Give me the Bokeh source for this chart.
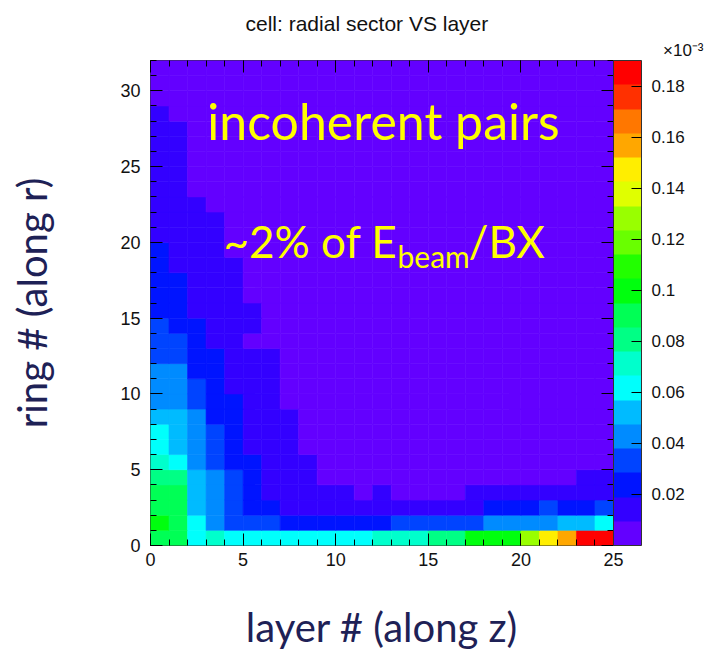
from bokeh.plotting import figure
from bokeh.models import (ColumnDataSource, LinearColorMapper, ColorBar, FixedTicker,
                          SingleIntervalTicker, LinearAxis, Label, Title)
from bokeh.embed import file_html
from bokeh.resources import INLINE

# ---------------- data (units of 1e-3) ----------------
layers = list(range(25))          # layer index (x bins)
rings = list(range(32))           # ring index (y bins)

ring_00 = [0.090, 0.090, 0.062, 0.071, 0.062, 0.062, 0.062, 0.062, 0.062, 0.062, 0.062, 0.062, 0.071, 0.071, 0.071, 0.081, 0.081, 0.100, 0.100, 0.100, 0.128, 0.147, 0.157, 0.185, 0.185]
ring_01 = [0.100, 0.090, 0.062, 0.043, 0.033, 0.033, 0.033, 0.024, 0.024, 0.024, 0.024, 0.024, 0.024, 0.033, 0.033, 0.033, 0.033, 0.033, 0.043, 0.043, 0.043, 0.043, 0.052, 0.052, 0.062]
ring_02 = [0.090, 0.090, 0.052, 0.043, 0.033, 0.024, 0.024, 0.014, 0.014, 0.014, 0.014, 0.014, 0.014, 0.014, 0.014, 0.014, 0.014, 0.014, 0.024, 0.024, 0.024, 0.033, 0.024, 0.024, 0.033]
ring_03 = [0.090, 0.090, 0.052, 0.043, 0.033, 0.024, 0.014, 0.014, 0.014, 0.014, 0.014, 0.008, 0.014, 0.008, 0.008, 0.008, 0.008, 0.014, 0.014, 0.014, 0.014, 0.014, 0.014, 0.014, 0.014]
ring_04 = [0.081, 0.081, 0.052, 0.043, 0.033, 0.024, 0.014, 0.014, 0.014, 0.007, 0.007, 0.007, 0.007, 0.007, 0.006, 0.006, 0.006, 0.007, 0.007, 0.007, 0.007, 0.007, 0.008, 0.014, 0.014]
ring_05 = [0.071, 0.062, 0.043, 0.033, 0.024, 0.024, 0.014, 0.014, 0.014, 0.006, 0.006, 0.005, 0.005, 0.005, 0.005, 0.005, 0.005, 0.005, 0.005, 0.006, 0.006, 0.006, 0.007, 0.007, 0.008]
ring_06 = [0.062, 0.052, 0.043, 0.033, 0.024, 0.014, 0.014, 0.014, 0.007, 0.005, 0.005, 0.005, 0.004, 0.004, 0.004, 0.004, 0.004, 0.004, 0.004, 0.005, 0.005, 0.005, 0.005, 0.006, 0.006]
ring_07 = [0.062, 0.052, 0.043, 0.033, 0.024, 0.014, 0.014, 0.014, 0.007, 0.005, 0.004, 0.004, 0.004, 0.004, 0.004, 0.004, 0.004, 0.004, 0.004, 0.004, 0.004, 0.005, 0.005, 0.005, 0.005]
ring_08 = [0.052, 0.052, 0.043, 0.024, 0.024, 0.014, 0.014, 0.014, 0.006, 0.005, 0.004, 0.004, 0.004, 0.004, 0.004, 0.003, 0.003, 0.004, 0.004, 0.004, 0.004, 0.004, 0.004, 0.005, 0.005]
ring_09 = [0.043, 0.043, 0.033, 0.024, 0.024, 0.014, 0.014, 0.008, 0.005, 0.004, 0.004, 0.004, 0.004, 0.003, 0.003, 0.003, 0.003, 0.003, 0.003, 0.004, 0.004, 0.004, 0.004, 0.004, 0.004]
ring_10 = [0.043, 0.043, 0.033, 0.024, 0.014, 0.014, 0.014, 0.007, 0.005, 0.004, 0.004, 0.004, 0.003, 0.003, 0.003, 0.003, 0.003, 0.003, 0.003, 0.003, 0.003, 0.004, 0.004, 0.004, 0.004]
ring_11 = [0.043, 0.043, 0.024, 0.024, 0.014, 0.014, 0.014, 0.007, 0.005, 0.004, 0.003, 0.003, 0.003, 0.003, 0.003, 0.003, 0.003, 0.003, 0.003, 0.003, 0.003, 0.003, 0.003, 0.004, 0.004]
ring_12 = [0.033, 0.033, 0.024, 0.024, 0.014, 0.014, 0.014, 0.006, 0.005, 0.004, 0.003, 0.003, 0.003, 0.003, 0.003, 0.003, 0.003, 0.003, 0.003, 0.003, 0.003, 0.003, 0.003, 0.003, 0.003]
ring_13 = [0.033, 0.033, 0.024, 0.014, 0.014, 0.009, 0.008, 0.006, 0.004, 0.003, 0.003, 0.003, 0.003, 0.003, 0.003, 0.003, 0.003, 0.003, 0.003, 0.003, 0.003, 0.003, 0.003, 0.003, 0.003]
ring_14 = [0.033, 0.024, 0.024, 0.014, 0.014, 0.011, 0.007, 0.005, 0.004, 0.003, 0.003, 0.003, 0.003, 0.003, 0.003, 0.003, 0.003, 0.002, 0.002, 0.002, 0.003, 0.003, 0.003, 0.003, 0.003]
ring_15 = [0.024, 0.024, 0.014, 0.014, 0.014, 0.011, 0.007, 0.005, 0.004, 0.003, 0.003, 0.003, 0.003, 0.003, 0.002, 0.002, 0.002, 0.002, 0.002, 0.002, 0.002, 0.003, 0.003, 0.003, 0.003]
ring_16 = [0.024, 0.024, 0.014, 0.014, 0.014, 0.008, 0.006, 0.005, 0.004, 0.003, 0.003, 0.003, 0.003, 0.002, 0.002, 0.002, 0.002, 0.002, 0.002, 0.002, 0.002, 0.002, 0.003, 0.003, 0.003]
ring_17 = [0.024, 0.024, 0.014, 0.014, 0.014, 0.008, 0.006, 0.005, 0.004, 0.003, 0.003, 0.003, 0.002, 0.002, 0.002, 0.002, 0.002, 0.002, 0.002, 0.002, 0.002, 0.002, 0.002, 0.003, 0.003]
ring_18 = [0.024, 0.014, 0.014, 0.014, 0.011, 0.007, 0.005, 0.004, 0.003, 0.002, 0.002, 0.002, 0.002, 0.002, 0.002, 0.002, 0.002, 0.002, 0.002, 0.002, 0.002, 0.002, 0.002, 0.002, 0.002]
ring_19 = [0.024, 0.014, 0.014, 0.014, 0.008, 0.006, 0.005, 0.004, 0.003, 0.002, 0.002, 0.002, 0.002, 0.002, 0.002, 0.002, 0.002, 0.002, 0.002, 0.002, 0.002, 0.002, 0.002, 0.002, 0.002]
ring_20 = [0.014, 0.014, 0.014, 0.012, 0.008, 0.006, 0.005, 0.004, 0.003, 0.002, 0.002, 0.002, 0.002, 0.002, 0.002, 0.002, 0.002, 0.002, 0.002, 0.002, 0.002, 0.002, 0.002, 0.002, 0.002]
ring_21 = [0.014, 0.014, 0.012, 0.011, 0.007, 0.005, 0.004, 0.003, 0.003, 0.002, 0.002, 0.002, 0.002, 0.002, 0.002, 0.002, 0.002, 0.002, 0.002, 0.002, 0.002, 0.002, 0.002, 0.002, 0.002]
ring_22 = [0.014, 0.014, 0.011, 0.009, 0.007, 0.005, 0.004, 0.003, 0.003, 0.002, 0.002, 0.002, 0.002, 0.002, 0.002, 0.002, 0.002, 0.002, 0.002, 0.002, 0.002, 0.002, 0.002, 0.002, 0.002]
ring_23 = [0.014, 0.013, 0.009, 0.008, 0.006, 0.005, 0.004, 0.003, 0.002, 0.002, 0.002, 0.002, 0.002, 0.002, 0.002, 0.002, 0.002, 0.002, 0.002, 0.002, 0.002, 0.002, 0.002, 0.002, 0.002]
ring_24 = [0.013, 0.012, 0.009, 0.007, 0.006, 0.004, 0.003, 0.003, 0.002, 0.002, 0.002, 0.002, 0.002, 0.002, 0.002, 0.002, 0.002, 0.002, 0.002, 0.002, 0.002, 0.002, 0.002, 0.002, 0.002]
ring_25 = [0.013, 0.011, 0.008, 0.007, 0.005, 0.004, 0.003, 0.003, 0.002, 0.002, 0.002, 0.002, 0.002, 0.002, 0.002, 0.002, 0.002, 0.002, 0.002, 0.002, 0.002, 0.002, 0.002, 0.002, 0.002]
ring_26 = [0.012, 0.011, 0.008, 0.006, 0.005, 0.004, 0.003, 0.002, 0.002, 0.002, 0.002, 0.002, 0.002, 0.002, 0.002, 0.002, 0.002, 0.002, 0.002, 0.002, 0.002, 0.002, 0.002, 0.002, 0.002]
ring_27 = [0.012, 0.010, 0.007, 0.006, 0.005, 0.004, 0.003, 0.002, 0.002, 0.001, 0.001, 0.001, 0.001, 0.001, 0.001, 0.001, 0.001, 0.001, 0.001, 0.001, 0.001, 0.001, 0.001, 0.001, 0.001]
ring_28 = [0.011, 0.009, 0.007, 0.005, 0.004, 0.003, 0.003, 0.002, 0.002, 0.001, 0.001, 0.001, 0.001, 0.001, 0.001, 0.001, 0.001, 0.001, 0.001, 0.001, 0.001, 0.001, 0.001, 0.001, 0.001]
ring_29 = [0.009, 0.008, 0.006, 0.005, 0.004, 0.003, 0.002, 0.002, 0.001, 0.001, 0.001, 0.001, 0.001, 0.001, 0.001, 0.001, 0.001, 0.001, 0.001, 0.001, 0.001, 0.001, 0.001, 0.001, 0.001]
ring_30 = [0.008, 0.007, 0.006, 0.004, 0.004, 0.003, 0.002, 0.002, 0.001, 0.001, 0.001, 0.001, 0.001, 0.001, 0.001, 0.001, 0.001, 0.001, 0.001, 0.001, 0.001, 0.001, 0.001, 0.001, 0.001]
ring_31 = [0.007, 0.007, 0.005, 0.004, 0.003, 0.003, 0.002, 0.001, 0.001, 0.001, 0.001, 0.001, 0.001, 0.001, 0.001, 0.001, 0.001, 0.001, 0.001, 0.001, 0.001, 0.001, 0.001, 0.001, 0.001]

energy = [ring_00, ring_01, ring_02, ring_03, ring_04, ring_05, ring_06, ring_07,
          ring_08, ring_09, ring_10, ring_11, ring_12, ring_13, ring_14, ring_15,
          ring_16, ring_17, ring_18, ring_19, ring_20, ring_21, ring_22, ring_23,
          ring_24, ring_25, ring_26, ring_27, ring_28, ring_29, ring_30, ring_31]

z_low, z_high = 0.0, 0.19
cbar_ticks = [0.02, 0.04, 0.06, 0.08, 0.1, 0.12, 0.14, 0.16, 0.18]
cbar_labels = ["0.02", "0.04", "0.06", "0.08", "0.1", "0.12", "0.14", "0.16", "0.18"]

# ROOT "pretty" palette, 20 contour levels
palette = ["#6300ff", "#3300ff", "#0014ff", "#0044ff", "#008bff", "#00bbff", "#00fffc",
           "#00ffcc", "#00ff85", "#00ff55", "#00ff0e", "#22ff00", "#69ff00", "#99ff00",
           "#e0ff00", "#ffee00", "#ffa700", "#ff7700", "#ff3000", "#ff0000"]

# ---------------- build cells ----------------
left, right, bottom, top, val = [], [], [], [], []
for r in rings:
    for l in layers:
        left.append(l)
        right.append(l + 1)
        bottom.append(r)
        top.append(r + 1)
        val.append(energy[r][l])
src = ColumnDataSource(dict(left=left, right=right, bottom=bottom, top=top, val=val))

mapper = LinearColorMapper(palette=palette, low=z_low, high=z_high)

FONT = "Liberation Sans"
SLIDE_FONT = "Lato"
NAVY = "#1e2156"

p = figure(width=708, height=665, x_range=(0, 25), y_range=(0, 32),
           output_backend="svg", toolbar_location=None,
           min_border_left=150, min_border_right=95, min_border_top=60, min_border_bottom=120,
           background_fill_color="white", border_fill_color="white")

p.quad(left="left", right="right", bottom="bottom", top="top", source=src,
       fill_color={"field": "val", "transform": mapper},
       line_color={"field": "val", "transform": mapper}, line_width=0.6)

p.grid.visible = False
p.outline_line_color = "#333333"
p.outline_line_width = 1

p.title.text = "cell: radial sector VS layer"
p.title.align = "left"
p.title.offset = 95
p.title.text_font = FONT
p.title.text_font_size = "21px"
p.title.text_font_style = "normal"
p.title.text_color = "#111111"
p.title.standoff = 6

tick5 = SingleIntervalTicker(interval=5, num_minor_ticks=5)
for ax in (p.xaxis[0], p.yaxis[0]):
    ax.ticker = tick5
    ax.major_tick_in = 12
    ax.major_tick_out = 0
    ax.minor_tick_in = 6
    ax.minor_tick_out = 0
    ax.major_tick_line_color = "black"
    ax.minor_tick_line_color = "black"
    ax.axis_line_color = None
    ax.major_label_text_font = FONT
    ax.major_label_text_font_size = "18px"
    ax.major_label_text_color = "#111111"
    ax.axis_label_text_font = SLIDE_FONT
    ax.axis_label_text_font_size = "40px"
    ax.axis_label_text_font_style = "normal"
    ax.axis_label_text_color = NAVY

p.xaxis.axis_label = "layer # (along z)"
p.xaxis.major_label_standoff = 7
p.xaxis.axis_label_standoff = 34
p.yaxis.axis_label = "ring # (along r)"
p.yaxis.major_label_standoff = 10
p.yaxis.axis_label_standoff = 61

for loc in ("above", "right"):
    extra = LinearAxis(ticker=SingleIntervalTicker(interval=5, num_minor_ticks=5),
                       major_tick_in=12, major_tick_out=0, minor_tick_in=6, minor_tick_out=0,
                       major_tick_line_color="black", minor_tick_line_color="black",
                       axis_line_color=None, major_label_text_color=None,
                       major_label_text_font_size="1px", major_label_standoff=0)
    p.add_layout(extra, loc)

# colour-bar multiplier
p.add_layout(Title(text="\u00d710\u207b\u00b3", align="right", offset=-90,
                   text_font=FONT, text_font_size="17px", text_font_style="normal",
                   text_color="#111111", standoff=2), "above")

cb = ColorBar(color_mapper=mapper, width=28, padding=0, margin=3,
              ticker=FixedTicker(ticks=cbar_ticks),
              major_label_overrides=dict(zip(cbar_ticks, cbar_labels)),
              major_tick_line_color="black", major_tick_in=10, major_tick_out=0,
              minor_tick_line_color=None, bar_line_color="#333333",
              label_standoff=10, major_label_text_font=FONT,
              major_label_text_font_size="17px", major_label_text_color="#111111",
              background_fill_color=None, border_line_color=None)
p.add_layout(cb, "right")

# slide annotations
YEL = "#ffff00"
p.add_layout(Label(x=12.58, y=28.04, text="incoherent pairs", text_font=SLIDE_FONT,
                   text_font_size="50px", text_color=YEL, text_align="center",
                   text_baseline="alphabetic"))
p.add_layout(Label(x=13.34, y=20.06, text="~2% of E", text_font=SLIDE_FONT,
                   text_font_size="44px", text_color=YEL, text_align="right",
                   text_baseline="alphabetic"))
p.add_layout(Label(x=13.34, y=19.08, text="beam", text_font=SLIDE_FONT,
                   text_font_size="30px", text_color=YEL, text_align="left",
                   text_baseline="alphabetic"))
p.add_layout(Label(x=17.17, y=20.06, text="/BX", text_font=SLIDE_FONT,
                   text_font_size="44px", text_color=YEL, text_align="left",
                   text_baseline="alphabetic"))

open("out.html", "w").write(file_html(p, INLINE))
